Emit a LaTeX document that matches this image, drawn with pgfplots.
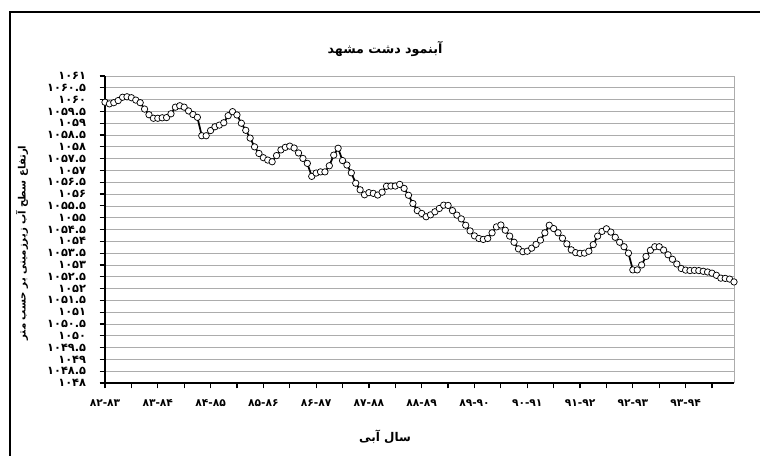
\documentclass[border=0pt]{standalone}
\usepackage{fontspec}
\usepackage{pgfplots}
\usepackage{pgfplotstable}
\pgfplotsset{compat=1.18}
\setmainfont{DejaVu Sans}
\newfontfamily\fa[Script=Arabic]{DejaVu Sans}
\TeXXeTstate=1

\pgfplotstableread{
m v
0 1059.89
1 1059.82
2 1059.87
3 1059.96
4 1060.10
5 1060.12
6 1060.08
7 1059.98
8 1059.87
9 1059.60
10 1059.36
11 1059.21
12 1059.21
13 1059.23
14 1059.24
15 1059.40
16 1059.68
17 1059.74
18 1059.68
19 1059.52
20 1059.37
21 1059.25
22 1058.47
23 1058.47
24 1058.69
25 1058.85
26 1058.92
27 1059.02
28 1059.32
29 1059.49
30 1059.35
31 1059.00
32 1058.70
33 1058.37
34 1058.00
35 1057.72
36 1057.54
37 1057.44
38 1057.37
39 1057.63
40 1057.87
41 1057.98
42 1058.03
43 1057.95
44 1057.74
45 1057.51
46 1057.30
47 1056.75
48 1056.89
49 1056.94
50 1056.94
51 1057.20
52 1057.65
53 1057.94
54 1057.42
55 1057.23
56 1056.90
57 1056.46
58 1056.18
59 1055.97
60 1056.06
61 1056.03
62 1055.96
63 1056.08
64 1056.33
65 1056.34
66 1056.34
67 1056.41
68 1056.24
69 1055.95
70 1055.60
71 1055.30
72 1055.18
73 1055.04
74 1055.12
75 1055.25
76 1055.39
77 1055.53
78 1055.52
79 1055.30
80 1055.11
81 1054.95
82 1054.68
83 1054.44
84 1054.23
85 1054.12
86 1054.08
87 1054.12
88 1054.36
89 1054.61
90 1054.69
91 1054.47
92 1054.22
93 1053.96
94 1053.68
95 1053.56
96 1053.58
97 1053.71
98 1053.87
99 1054.05
100 1054.36
101 1054.68
102 1054.54
103 1054.36
104 1054.13
105 1053.89
106 1053.64
107 1053.52
108 1053.49
109 1053.50
110 1053.58
111 1053.86
112 1054.22
113 1054.42
114 1054.53
115 1054.39
116 1054.17
117 1053.96
118 1053.77
119 1053.50
120 1052.79
121 1052.79
122 1053.00
123 1053.36
124 1053.62
125 1053.77
126 1053.77
127 1053.63
128 1053.43
129 1053.24
130 1053.04
131 1052.85
132 1052.78
133 1052.76
134 1052.77
135 1052.76
136 1052.73
137 1052.70
138 1052.65
139 1052.56
140 1052.44
141 1052.43
142 1052.40
143 1052.28
}\datatable

\begin{document}
\begin{tikzpicture}
\useasboundingbox (0,0) rectangle (570pt,342pt);
\clip (0,0) rectangle (570pt,342pt);
\fill[white] (0,0) rectangle (570pt,342pt);
\draw[line width=2.2pt] (7.5pt,-20pt) -- (7.5pt,333pt) -- (600pt,333pt);
\begin{axis}[
  at={(78.75pt,54.75pt)}, anchor=south west,
  scale only axis, width=471.75pt, height=230.25pt,
  xmin=0, xmax=143, ymin=1048, ymax=1061,
  axis lines*=left,
  axis line style={line width=1.5pt, -},
  tick align=outside,
  major tick length=4pt,
  tick style={black, line width=0.9pt},
  ytick={1048,1048.5,...,1061},
  yticklabels={۱۰۴۸,۱۰۴۸.۵,۱۰۴۹,۱۰۴۹.۵,۱۰۵۰,۱۰۵۰.۵,۱۰۵۱,۱۰۵۱.۵,۱۰۵۲,۱۰۵۲.۵,۱۰۵۳,۱۰۵۳.۵,۱۰۵۴,۱۰۵۴.۵,۱۰۵۵,۱۰۵۵.۵,۱۰۵۶,۱۰۵۶.۵,۱۰۵۷,۱۰۵۷.۵,۱۰۵۸,۱۰۵۸.۵,۱۰۵۹,۱۰۵۹.۵,۱۰۶۰,۱۰۶۰.۵,۱۰۶۱},
  xtick={0,6,...,138},
  xticklabels={۸۲-۸۳,,۸۳-۸۴,,۸۴-۸۵,,۸۵-۸۶,,۸۶-۸۷,,۸۷-۸۸,,۸۸-۸۹,,۸۹-۹۰,,۹۰-۹۱,,۹۱-۹۲,,۹۲-۹۳,,۹۳-۹۴,},
  yticklabel style={font=\bfseries\fontsize{8.5}{9}\selectfont, inner sep=0pt, xshift=-10pt},
  xticklabel style={font=\bfseries\fontsize{8}{9}\selectfont, inner sep=0pt, yshift=-8pt},
  ymajorgrids,
  grid style={gray!65, line width=0.55pt},
  clip=false,
]
\draw[gray!65, line width=0.55pt] (rel axis cs:1,0) -- (rel axis cs:1,1);
\addplot[black, line width=1.3pt, mark=*, mark size=2.4pt,
  mark options={fill=white, draw=black, line width=0.55pt}]
  table[x=m, y=v] {\datatable};
\end{axis}
\node[font=\fa\bfseries\fontsize{9.5}{12}\selectfont] at (288.75pt,305pt) {\beginR آبنمود دشت مشهد\endR};
\node[font=\fa\bfseries\fontsize{9}{11}\selectfont] at (288.75pt,14.25pt) {\beginR سال آبی\endR};
\node[font=\fa\bfseries\fontsize{7.6}{10}\selectfont, rotate=90] at (16.5pt,159.75pt) {\beginR ارتفاع سطح آب زیرزمینی بر حسب متر\endR};
\end{tikzpicture}
\end{document}
